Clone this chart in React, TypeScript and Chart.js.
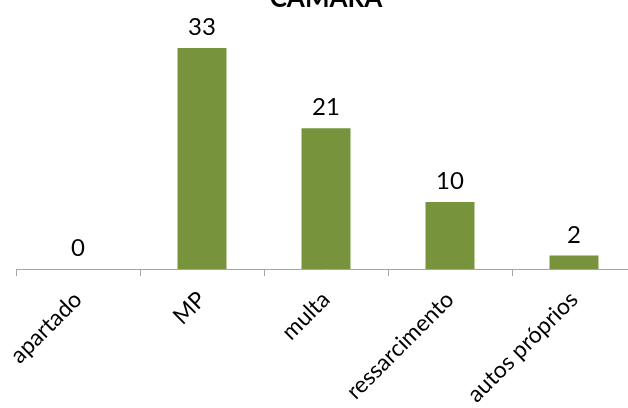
import React, { useEffect, useRef } from "react";
import { Chart, registerables } from "chart.js";

Chart.register(...registerables);

const titleText = "CÂMARA";
const categories = ["apartado", "MP", "multa", "ressarcimento", "autos próprios"];
const values = [0, 33, 21, 10, 2];

const valueLabels = {
  id: "valueLabels",
  afterDatasetsDraw(chart: any) {
    const ctx = chart.ctx;
    const meta = chart.getDatasetMeta(0);
    ctx.save();
    ctx.font = "24px Lato";
    ctx.fillStyle = "#000000";
    ctx.textAlign = "center";
    ctx.textBaseline = "alphabetic";
    meta.data.forEach((bar: any, i: number) => {
      ctx.fillText(String(values[i]), bar.x, bar.y - 13);
    });
    ctx.restore();
  },
};

const topTitle = {
  id: "topTitle",
  afterDraw(chart: any) {
    const ctx = chart.ctx;
    const area = chart.chartArea;
    ctx.save();
    ctx.font = "bold 26px Lato";
    ctx.fillStyle = "#000000";
    ctx.textAlign = "center";
    ctx.textBaseline = "alphabetic";
    ctx.fillText(titleText, (area.left + area.right) / 2, 7);
    ctx.restore();
  },
};

export default function App() {
  const ref = useRef<HTMLCanvasElement | null>(null);
  useEffect(() => {
    if (!ref.current) return;
    const chart = new Chart(ref.current, {
      type: "bar",
      data: {
        labels: categories,
        datasets: [
          {
            data: values,
            backgroundColor: "#77933C",
            borderWidth: 0,
            categoryPercentage: 1,
            barPercentage: 0.395,
          },
        ],
      },
      options: {
        animation: false,
        responsive: true,
        maintainAspectRatio: false,
        layout: { padding: { left: 16, right: 8, top: 1, bottom: 0 } },
        plugins: {
          legend: { display: false },
          title: { display: false },
          tooltip: { enabled: false },
        },
        scales: {
          x: {
            grid: {
              display: true,
              drawOnChartArea: false,
              drawTicks: true,
              tickLength: 7,
              color: "#A6A6A6",
              offset: true,
            },
            border: { display: true, color: "#A6A6A6", width: 1 },
            ticks: {
              maxRotation: 45,
              minRotation: 45,
              color: "#000000",
              font: { family: "Lato", size: 23 },
              padding: 10,
            },
            afterFit: (scale: any) => {
              scale.height = 139;
            },
          },
          y: {
            display: false,
            min: 0,
            max: 40,
          },
        },
      },
      plugins: [valueLabels, topTitle],
    });
    return () => chart.destroy();
  }, []);
  return (
    <div style={{ position: "fixed", left: 0, top: 0, width: 644, height: 408, background: "#fff" }}>
      <canvas ref={ref} />
    </div>
  );
}
